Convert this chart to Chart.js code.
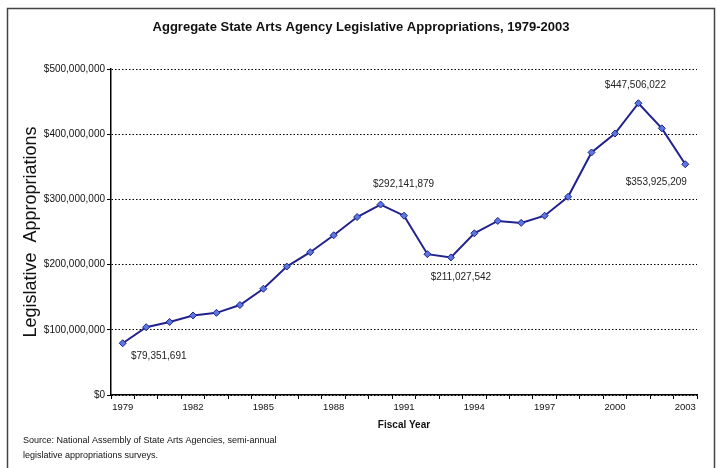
<!DOCTYPE html>
<html>
<head>
<meta charset="utf-8">
<script src="https://cdn.jsdelivr.net/npm/chart.js@4.4.1/dist/chart.umd.min.js"></script>
<style>
html,body{margin:0;padding:0;background:#fff;}
#wrap{width:717px;height:468px;position:relative;}
</style>
</head>
<body>
<div id="wrap"><canvas id="c" width="717" height="468"></canvas></div>
<script>
// ---- data ----
const chartTitle = 'Aggregate State Arts Agency Legislative Appropriations, 1979-2003';
const yAxisTitle = 'Legislative  Appropriations';
const xAxisTitle = 'Fiscal Year';
const sourceLines = [
  'Source: National Assembly of State Arts Agencies, semi-annual',
  'legislative appropriations surveys.'
];
const years = ['1979','1980','1981','1982','1983','1984','1985','1986','1987','1988',
  '1989','1990','1991','1992','1993','1994','1995','1996','1997','1998',
  '1999','2000','2001','2002','2003'];
const appropriations = [79351691, 104000000, 112000000, 122000000, 126000000, 138000000,
  163000000, 197000000, 219000000, 245000000, 273000000, 292141879, 275000000,
  216000000, 211027542, 248000000, 267000000, 264000000, 275000000, 304000000,
  372000000, 401000000, 447506022, 409000000, 353925209];
const labelledYears = ['1979','1990','1993','2001','2003'];
const yTickValues = [0, 100000000, 200000000, 300000000, 400000000, 500000000];
const xLabelledYears = ['1979','1982','1985','1988','1991','1994','1997','2000','2003'];

// ---- style (positions of value labels relative to their points) ----
const labelOffsets = {
  '1979': [36, 13], '1990': [23, -20], '1993': [10, 20], '2001': [-3, -18], '2003': [-29, 18]
};
const FONT = "'Liberation Sans', Arial, Helvetica, sans-serif";
const fmt = v => '$' + Math.round(v).toLocaleString('en-US');

const framePlugin = {
  id: 'frame',
  beforeDraw(chart) {
    const ctx = chart.ctx;
    ctx.save();
    ctx.fillStyle = '#ffffff';
    ctx.fillRect(0, 0, chart.width, chart.height);
    ctx.strokeStyle = '#444';
    ctx.lineWidth = 1.5;
    ctx.strokeRect(7.5, 8.5, 707, 480);
    ctx.restore();
  },
  afterDraw(chart) {
    const ctx = chart.ctx;
    ctx.save();
    ctx.fillStyle = '#111';
    ctx.textAlign = 'center';
    ctx.textBaseline = 'middle';
    ctx.font = 'bold 13px ' + FONT;
    ctx.fillText(chartTitle, 361, 27);
    ctx.textAlign = 'left';
    ctx.font = '9px ' + FONT;
    ctx.fillText(sourceLines[0], 23, 441);
    ctx.fillText(sourceLines[1], 23, 456);
    // value labels
    const meta = chart.getDatasetMeta(0);
    ctx.font = '10px ' + FONT;
    ctx.textAlign = 'center';
    ctx.fillStyle = '#222';
    labelledYears.forEach(y => {
      const i = years.indexOf(y);
      const p = meta.data[i];
      const off = labelOffsets[y];
      ctx.fillText(fmt(appropriations[i]), p.x + off[0], p.y + off[1]);
    });
    ctx.restore();
  }
};

new Chart(document.getElementById('c'), {
  type: 'line',
  data: {
    labels: years,
    datasets: [{
      data: appropriations,
      borderColor: '#22228f',
      borderWidth: 2,
      pointStyle: 'rectRot',
      pointRadius: 3.5,
      pointBackgroundColor: '#5a78e0',
      pointBorderColor: '#22228f',
      pointBorderWidth: 1,
      tension: 0,
      fill: false
    }]
  },
  options: {
    responsive: false,
    animation: false,
    devicePixelRatio: 1,
    layout: { padding: { left: 0, right: 20, top: 69, bottom: 0 } },
    plugins: { legend: { display: false }, tooltip: { enabled: false }, title: { display: false } },
    scales: {
      x: {
        type: 'category',
        offset: true,
        afterFit: s => { s.height = 73; },
        grid: { display: true, drawOnChartArea: false, drawTicks: true, tickLength: 4,
                color: '#000', tickColor: '#000', offset: true },
        border: { display: true, color: '#000', width: 1.5 },
        ticks: {
          autoSkip: false, maxRotation: 0, padding: 3,
          font: { family: FONT, size: 9.5 }, color: '#111',
          callback: function(v, i) { const l = years[i]; return xLabelledYears.includes(l) ? l : ''; }
        },
        title: { display: true, text: xAxisTitle, color: '#111',
                 font: { family: FONT, size: 10, weight: 'bold' }, padding: { top: 0, bottom: 37 } }
      },
      y: {
        min: 0, max: 500000000,
        afterFit: s => { s.width = 111; },
        afterBuildTicks: s => { s.ticks = yTickValues.map(v => ({ value: v })); },
        grid: { color: '#000', lineWidth: 1, tickLength: 4, tickColor: '#000', tickBorderDash: [] },
        border: { display: true, color: '#000', width: 1.5, dash: [1.5, 2] },
        ticks: { padding: 2, font: { family: FONT, size: 10 }, color: '#111', callback: v => fmt(v) },
        title: { display: true, text: yAxisTitle, color: '#111',
                 font: { family: FONT, size: 18 }, padding: { top: 20, bottom: 0 } }
      }
    }
  },
  plugins: [framePlugin]
});
</script>
</body>
</html>
